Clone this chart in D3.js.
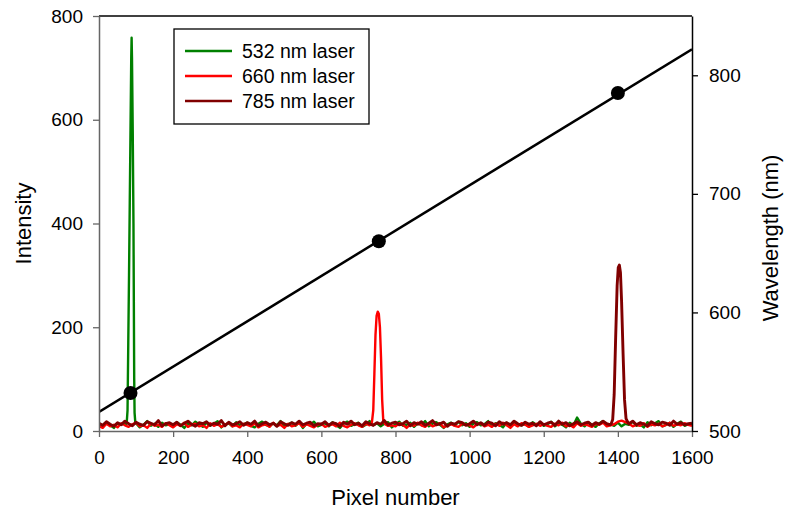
<!DOCTYPE html>
<html>
<head>
<meta charset="utf-8">
<script src="https://cdn.jsdelivr.net/npm/d3@7"></script>
<style>
  body { margin: 0; background: #fff; }
  text { font-family: "Liberation Sans", Arial, sans-serif; fill: #000; }
</style>
</head>
<body>
<svg id="chart"></svg>
<script>
// baseline noise, one value every 10 pixels (0..1600)
const baseStep = 10;
const greenBase = [
  14,8,17,11,6,15,12,18,9,13,16,7,12,19,10,14,8,16,11,13,
  9,17,12,6,15,11,18,13,8,16,10,14,19,7,12,15,9,17,11,13,
  16,10,7,14,18,12,9,15,11,19,8,13,16,10,17,6,14,12,18,9,
  12,15,9,17,11,6,14,18,10,13,16,8,12,19,11,15,9,14,17,7,
  13,18,10,12,16,8,15,11,19,9,14,17,12,6,13,16,10,18,11,15,
  8,14,17,11,13,19,9,15,12,7,16,10,18,13,11,14,8,17,12,16,
  10,13,18,9,15,12,7,16,11,26,14,9,17,12,8,15,19,11,13,10,
  16,9,14,12,18,10,13,7,17,11,15,19,9,12,16,8,14,18,10,13,
  12
];
const redBase = [
  10,6,14,9,12,7,15,11,8,13,16,9,11,6,14,10,12,8,15,11,
  7,13,10,16,8,12,14,9,11,6,15,10,13,8,12,16,9,11,7,14,
  12,9,15,7,11,13,8,16,10,12,6,14,9,11,15,8,13,10,7,12,
  14,8,11,13,9,16,10,7,12,15,11,8,14,9,13,6,12,16,10,11,
  9,15,12,6,13,10,16,11,8,14,9,12,15,7,11,13,10,8,14,12,
  11,7,13,15,9,12,8,14,10,16,11,6,13,9,15,12,8,11,14,10,
  13,10,8,14,11,16,9,12,7,15,10,13,11,8,14,12,16,9,11,13,
  18,20,17,14,9,12,10,15,8,13,11,14,9,12,16,10,13,11,15,12,
  10
];
const darkRedBase = [
  15,11,18,13,9,16,12,19,14,10,17,13,11,18,15,12,20,10,14,16,
  12,17,10,15,19,13,9,16,14,18,11,15,13,20,10,17,12,14,18,11,
  16,13,19,10,14,17,12,15,9,18,14,11,16,13,19,12,15,17,10,14,
  13,18,11,16,14,9,17,13,19,12,15,10,18,14,11,16,13,20,12,15,
  17,12,14,19,10,16,13,18,11,15,20,12,14,17,9,15,13,18,16,11,
  14,19,12,16,11,17,15,10,18,13,16,12,19,14,11,17,13,15,10,18,
  12,15,17,11,19,13,16,10,14,18,12,15,17,11,16,13,19,14,12,16,
  15,11,17,14,19,12,16,13,10,18,14,12,17,15,11,19,13,16,12,14,
  15
];

// laser peaks [pixel, intensity]
const greenPeak = [[72,12],[75,18],[77,40],[79,170],[81,300],[83,440],[85,580],[87,720],[88,758],[89,720],[91,580],[93,400],[94,250],[95,100],[96,35],[98,16],[102,13]];
const redPeak = [[730,11],[736,14],[740,40],[743,110],[746,185],[749,222],[752,230],[755,226],[758,200],[761,140],[764,60],[767,20],[772,13]];
const darkRedPeak = [[1382,14],[1386,22],[1390,70],[1394,180],[1398,280],[1401,315],[1404,320],[1407,305],[1410,250],[1414,150],[1418,60],[1422,24],[1428,15]];

// calibration
const calPixel = [85, 755, 1400];
const calWavelength = [532, 660, 785];
const fitPixel = [0, 1600];
const fitWavelength = [516, 822];

const seriesNames = ["532 nm laser", "660 nm laser", "785 nm laser"];
const seriesColors = ["#008000", "#ff0000", "#800000"];
const seriesWidths = [2.4, 2.4, 2.9];

const xTicks = [0, 200, 400, 600, 800, 1000, 1200, 1400, 1600];
const yTicks = [0, 200, 400, 600, 800];
const y2Ticks = [500, 600, 700, 800];

function buildSeries(base, peak) {
  const lo = peak[0][0], hi = peak[peak.length - 1][0];
  const pts = base.map((v, i) => [i * baseStep, v]).filter(p => p[0] < lo || p[0] > hi);
  return pts.concat(peak).sort((a, b) => a[0] - b[0]);
}

const series = [
  buildSeries(greenBase, greenPeak),
  buildSeries(redBase, redPeak),
  buildSeries(darkRedBase, darkRedPeak)
];

const width = 787, height = 514;
const margin = { top: 16, right: 95, bottom: 83, left: 99 };

const svg = d3.select("#chart").attr("width", width).attr("height", height);

const x = d3.scaleLinear().domain([0, 1600]).range([margin.left, width - margin.right]);
const y = d3.scaleLinear().domain([0, 800]).range([height - margin.bottom, margin.top]);
const y2 = d3.scaleLinear().domain([500, 850]).range([height - margin.bottom, margin.top]);

svg.append("clipPath").attr("id", "clip")
  .append("rect")
  .attr("x", margin.left).attr("y", margin.top)
  .attr("width", x(1600) - x(0)).attr("height", y(0) - y(800));

const plot = svg.append("g").attr("clip-path", "url(#clip)");

const line = d3.line().x(d => x(d[0])).y(d => y(d[1]));
series.forEach((s, i) => {
  plot.append("path")
    .datum(s)
    .attr("fill", "none")
    .attr("stroke", seriesColors[i])
    .attr("stroke-width", seriesWidths[i])
    .attr("stroke-linejoin", "round")
    .attr("d", line);
});

// calibration line + points
plot.append("path")
  .datum(fitPixel.map((p, i) => [p, fitWavelength[i]]))
  .attr("fill", "none")
  .attr("stroke", "#000")
  .attr("stroke-width", 2.5)
  .attr("d", d3.line().x(d => x(d[0])).y(d => y2(d[1])));

svg.selectAll(".cal")
  .data(calPixel.map((p, i) => [p, calWavelength[i]]))
  .enter().append("circle")
  .attr("class", "cal")
  .attr("cx", d => x(d[0]))
  .attr("cy", d => y2(d[1]))
  .attr("r", 7)
  .attr("fill", "#000");

// top frame line
svg.append("line")
  .attr("x1", x(0)).attr("x2", x(1600))
  .attr("y1", y(800)).attr("y2", y(800))
  .attr("stroke", "#000").attr("stroke-width", 1.3);

// axes
const fmt = d3.format("d");
const xAxis = svg.append("g")
  .attr("transform", `translate(0,${y(0)})`)
  .call(d3.axisBottom(x).tickValues(xTicks).tickFormat(fmt).tickSize(6).tickPadding(14).tickSizeOuter(0));
const yAxis = svg.append("g")
  .attr("transform", `translate(${x(0)},0)`)
  .call(d3.axisLeft(y).tickValues(yTicks).tickFormat(fmt).tickSize(6).tickPadding(10).tickSizeOuter(0));
const y2Axis = svg.append("g")
  .attr("transform", `translate(${x(1600)},0)`)
  .call(d3.axisRight(y2).tickValues(y2Ticks).tickFormat(fmt).tickSize(6).tickPadding(11).tickSizeOuter(0));

[xAxis, yAxis].forEach(a => {
  a.select(".domain").attr("stroke", "#666").attr("stroke-width", 1.5);
  a.selectAll(".tick line").attr("stroke", "#666").attr("stroke-width", 1.3);
});
y2Axis.select(".domain").attr("stroke", "#000").attr("stroke-width", 1.5);
y2Axis.selectAll(".tick line").attr("stroke", "#000").attr("stroke-width", 1.3);
[xAxis, yAxis, y2Axis].forEach(a => {
  a.selectAll("text").style("font-size", "19px").style("font-family", "Liberation Sans, Arial, sans-serif").attr("fill", "#000");
});

// axis titles
svg.append("text")
  .attr("x", (x(0) + x(1600)) / 2)
  .attr("y", 505)
  .attr("text-anchor", "middle")
  .style("font-size", "22px")
  .text("Pixel number");

svg.append("text")
  .attr("transform", `translate(31,${(y(0) + y(800)) / 2}) rotate(-90)`)
  .attr("text-anchor", "middle")
  .style("font-size", "22px")
  .text("Intensity");

svg.append("text")
  .attr("transform", "translate(778,238) rotate(-90)")
  .attr("text-anchor", "middle")
  .style("font-size", "22px")
  .text("Wavelength (nm)");

// legend
const legend = svg.append("g");
legend.append("rect")
  .attr("x", 174).attr("y", 29)
  .attr("width", 195).attr("height", 95)
  .attr("fill", "#fff")
  .attr("stroke", "#000").attr("stroke-width", 1.3);

seriesNames.forEach((name, i) => {
  const ly = 51 + i * 25;
  legend.append("line")
    .attr("x1", 185).attr("x2", 232)
    .attr("y1", ly).attr("y2", ly)
    .attr("stroke", seriesColors[i]).attr("stroke-width", 2.4);
  legend.append("text")
    .attr("x", 242).attr("y", ly + 7)
    .style("font-size", "19.5px")
    .text(name);
});
</script>
</body>
</html>
